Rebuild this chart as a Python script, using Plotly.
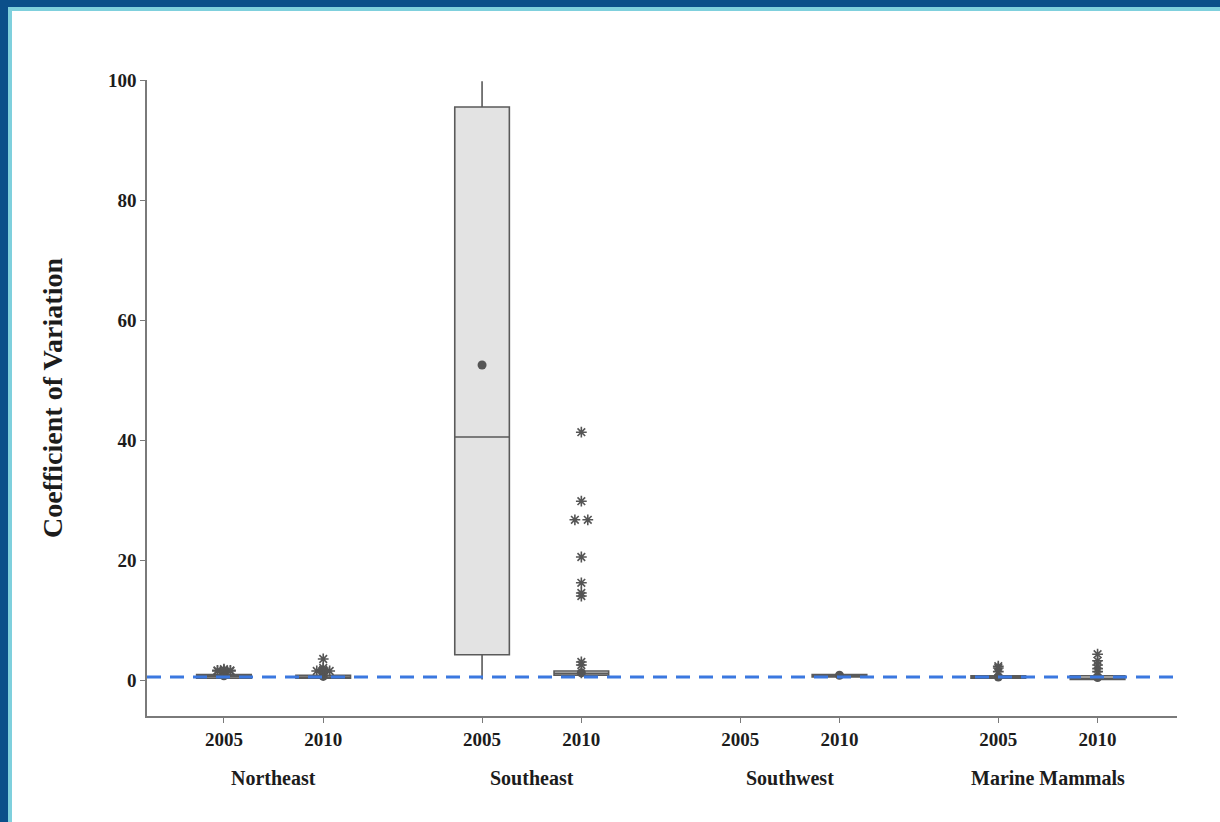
import plotly.graph_objects as go

# ---------------- data ----------------
regions = ["Northeast", "Southeast", "Southwest", "Marine Mammals"]
years = ["2005", "2010"]

# box statistics, one entry per (region, year); Southwest 2005 has no data
box_region = ["Northeast", "Northeast", "Southeast", "Southeast", "Southwest", "Marine Mammals", "Marine Mammals"]
box_year = ["2005", "2010", "2005", "2010", "2010", "2005", "2010"]
lower_fence = [0.1, 0.1, 0.1, 0.3, 0.3, 0.1, 0.0]
q1_vals = [0.3, 0.3, 4.2, 0.8, 0.5, 0.3, 0.1]
median_vals = [0.6, 0.5, 40.5, 1.1, 0.7, 0.5, 0.3]
q3_vals = [0.9, 0.8, 95.5, 1.5, 0.9, 0.7, 0.7]
upper_fence = [1.3, 1.2, 99.8, 2.0, 1.1, 0.9, 1.2]
mean_vals = [0.7, 0.6, 52.5, 1.2, 0.8, 0.5, 0.4]

# outliers (asterisks)
outliers = {
    ("Northeast", "2005"): [1.4, 1.5, 1.5, 1.6, 1.6, 1.7, 1.8],
    ("Northeast", "2010"): [1.3, 1.4, 1.5, 1.5, 1.6, 1.7, 2.0, 3.5],
    ("Southeast", "2010"): [2.5, 3.0, 14.0, 14.5, 16.2, 20.5, 26.7, 26.7, 29.8, 41.3],
    ("Marine Mammals", "2005"): [1.4, 2.0, 2.3],
    ("Marine Mammals", "2010"): [1.4, 1.9, 2.5, 3.2, 4.3],
}

reference_value = 0.5

# ---------------- helpers ----------------
GROUP_STEP = 2.6


def pos(region, year):
    return regions.index(region) * GROUP_STEP + years.index(year)


font_family = "Times New Roman, Liberation Serif, serif"
text_color = "#1c1c1c"
axis_color = "#7a7a7a"

fig = go.Figure()

fig.add_trace(go.Box(
    x=[pos(r, y) for r, y in zip(box_region, box_year)],
    q1=q1_vals, median=median_vals, q3=q3_vals,
    lowerfence=lower_fence, upperfence=upper_fence,
    width=0.55, fillcolor="#e3e3e3",
    line=dict(color="#5a5a5a", width=1.6),
    whiskerwidth=0, boxpoints=False, showlegend=False, hoverinfo="skip",
))

# mean dots
fig.add_trace(go.Scatter(
    x=[pos(r, y) for r, y in zip(box_region, box_year)], y=mean_vals,
    mode="markers", marker=dict(symbol="circle", size=9, color="#555555"),
    showlegend=False, hoverinfo="skip",
))

# outliers, duplicates dodged side by side
ox, oy = [], []
for (r, yr), vals in outliers.items():
    base = pos(r, yr)
    counts = {}
    for v in vals:
        counts[v] = counts.get(v, 0) + 1
    for v, n in counts.items():
        for k in range(n):
            ox.append(base + (k - (n - 1) / 2) * 0.13)
            oy.append(v)
fig.add_trace(go.Scatter(
    x=ox, y=oy, mode="markers",
    marker=dict(symbol="asterisk-open", size=9, color="#555555",
                line=dict(color="#555555", width=1.6)),
    showlegend=False, hoverinfo="skip",
))

# dashed reference line
fig.add_shape(type="line", xref="paper", yref="y", x0=0, x1=1,
              y0=reference_value, y1=reference_value,
              line=dict(color="#3b78e0", width=3, dash="14px,9px"), layer="above")

# ---------------- layout ----------------
W, H = 1220, 822
L, R, T, B = 147, 43, 80, 106
pw, ph = W - L - R, H - T - B


def px_x(p):
    return (p - L) / pw


def px_y(p):
    return (H - B - p) / ph


# frame bands
frame = [
    (0, 0, W, 7, "#0b4f8a"),
    (0, 7, W, 11, "#7fd0dd"),
    (0, 0, 8, H, "#0b4f8a"),
    (8, 7, 12, H, "#7fd0dd"),
]
for x0, y0, x1, y1, c in frame:
    fig.add_shape(type="rect", xref="paper", yref="paper",
                  x0=px_x(x0), x1=px_x(x1), y0=px_y(y0), y1=px_y(y1),
                  fillcolor=c, line=dict(width=0), layer="above")

tickvals = [pos(r, y) for r in regions for y in years]
ticktext = [y for r in regions for y in years]

for r in regions:
    fig.add_annotation(x=pos(r, "2005") + 0.5, y=px_y(778), xref="x", yref="paper",
                       text="<b>%s</b>" % r, showarrow=False, yanchor="middle",
                       font=dict(family=font_family, size=20, color=text_color))

fig.update_layout(
    width=W, height=H,
    margin=dict(l=L, r=R, t=T, b=B),
    paper_bgcolor="white", plot_bgcolor="white",
    font=dict(family=font_family, color=text_color),
    xaxis=dict(range=[-0.775, 9.6], tickvals=tickvals, ticktext=["<b>%s</b>" % t for t in ticktext],
               showgrid=False, zeroline=False, showline=True, linecolor=axis_color, linewidth=1.5,
               ticks="outside", ticklen=5, tickcolor=axis_color,
               tickfont=dict(family=font_family, size=19, color=text_color)),
    yaxis=dict(range=[-6, 100], tickvals=[0, 20, 40, 60, 80, 100],
               ticktext=["<b>%d</b>" % v for v in [0, 20, 40, 60, 80, 100]],
               showgrid=False, zeroline=False, showline=True, linecolor=axis_color, linewidth=1.5,
               ticks="outside", ticklen=5, tickcolor=axis_color,
               tickfont=dict(family=font_family, size=19, color=text_color),
               title=dict(text="<b>Coefficient of Variation</b>", standoff=37,
                          font=dict(family=font_family, size=28, color=text_color))),
)

fig.write_html("out.html", config={"displayModeBar": False},
               post_script="document.body.style.margin='0';")
